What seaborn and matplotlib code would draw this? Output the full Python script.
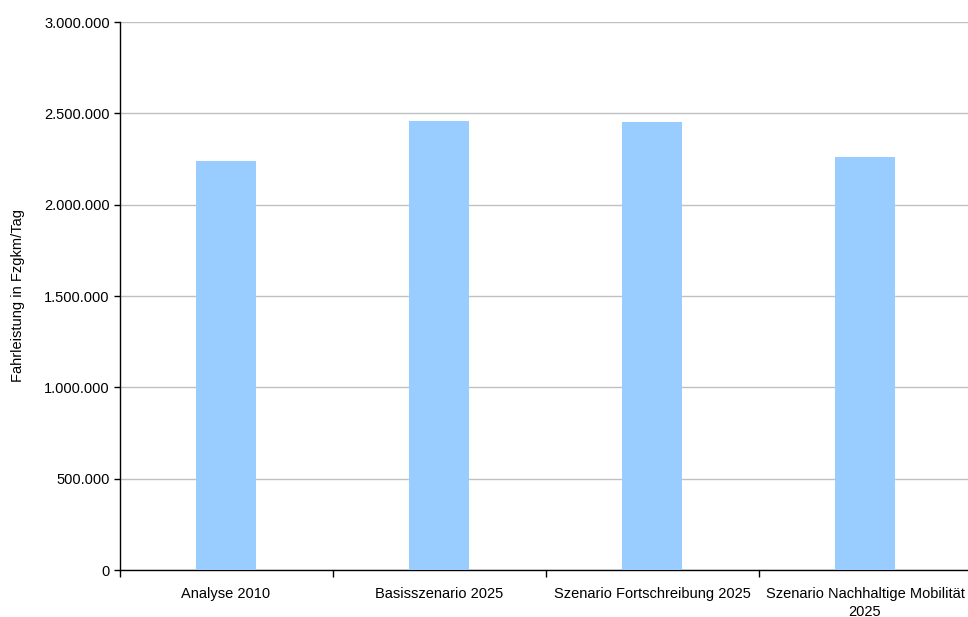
import matplotlib
matplotlib.use("Agg")
import matplotlib.pyplot as plt
from matplotlib.ticker import FuncFormatter, FixedLocator
import seaborn as sns
import pandas as pd

# Daily vehicle kilometres per scenario
szenarien = [
    "Analyse 2010",
    "Basisszenario 2025",
    "Szenario Fortschreibung 2025",
    "Szenario Nachhaltige Mobilität\n2025",
]
fahrleistung = [2237000, 2460000, 2454000, 2259000]
y_ticks = [0, 500000, 1000000, 1500000, 2000000, 2500000, 3000000]

df = pd.DataFrame({"Szenario": szenarien, "Fahrleistung": fahrleistung})

sns.set_theme(style="white")
plt.rcParams["font.family"] = ["Liberation Sans", "DejaVu Sans"]
plt.rcParams["text.color"] = "black"
plt.rcParams["axes.labelcolor"] = "black"
plt.rcParams["xtick.color"] = "black"
plt.rcParams["ytick.color"] = "black"

fig = plt.figure(figsize=(9.68, 6.17), dpi=100)
ax = fig.add_axes([119.5 / 968, 47 / 617, 852 / 968, 548 / 617])

sns.barplot(data=df, x="Szenario", y="Fahrleistung", color="#99ccff",
            saturation=1, width=0.28, ax=ax, zorder=3,
            edgecolor="none", linewidth=0)

ax.set_xlim(-0.5, 3.5)
ax.set_ylim(0, 3000000)
ax.set_yticks(y_ticks)
ax.yaxis.set_major_formatter(
    FuncFormatter(lambda v, p: f"{int(v):,}".replace(",", ".")))
ax.grid(axis="y", color="#c0c0c0", linewidth=1, zorder=0)

# category boundaries carry the tick marks, labels sit at the centres
ax.xaxis.set_major_locator(FixedLocator([0.5, 1.5, 2.5, 3.5, -0.5]))
ax.xaxis.set_minor_locator(FixedLocator([0, 1, 2, 3]))
ax.set_xticklabels([], minor=False)
ax.set_xticklabels(szenarien, minor=True, fontsize=10.5, linespacing=1.35)
ax.tick_params(axis="x", which="major", bottom=True, length=5, width=1,
               color="black", direction="out")
ax.tick_params(axis="x", which="minor", bottom=False, length=0, pad=12)
ax.tick_params(axis="y", left=True, length=4, width=1, color="black",
               direction="out", labelsize=10.5, pad=3)

for s in ["top", "right"]:
    ax.spines[s].set_visible(False)
for s in ["left", "bottom"]:
    ax.spines[s].set_color("black")
    ax.spines[s].set_linewidth(1)

ax.set_xlabel("")
ax.set_ylabel("Fahrleistung in Fzgkm/Tag", fontsize=10.5, labelpad=14)

fig.savefig("out.png", dpi=100)
